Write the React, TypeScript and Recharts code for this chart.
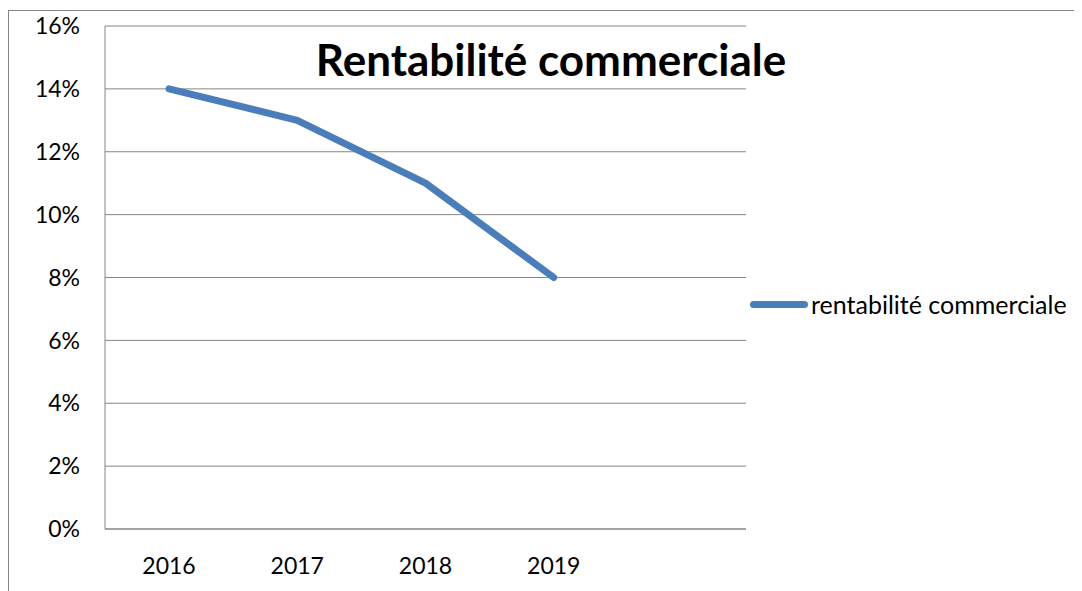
import { LineChart, Line, XAxis, YAxis, CartesianGrid } from "recharts";

const years = ["2016", "2017", "2018", "2019", ""];
const rentabilite = [14, 13, 11, 8, null];
const yTicks = [0, 2, 4, 6, 8, 10, 12, 14, 16];

const data = years.map((year, i) => ({ year, value: rentabilite[i] }));

const FONT = "Lato, 'Open Sans', sans-serif";
const GRID = "#868686";
const BLUE = "#4a7ebb";

export default function App() {
    return (
        <div
            style={{
                position: "relative",
                marginTop: 2,
                width: 1074,
                height: 581,
                borderLeft: `1px solid ${GRID}`,
                borderTop: `1px solid ${GRID}`,
                fontFamily: FONT,
                background: "#fff",
            }}
        >
            <LineChart
                width={1073}
                height={580}
                data={data}
                margin={{ top: 15, right: 336, left: 36, bottom: 32 }}
            >
                <CartesianGrid vertical={false} stroke={GRID} strokeWidth={1} />
                <XAxis
                    dataKey="year"
                    scale="point"
                    padding={{ left: 64, right: 64 }}
                    height={30}
                    axisLine={{ stroke: GRID }}
                    tickLine={false}
                    tickMargin={23}
                    tick={{ fill: "#000", fontSize: 23, fontFamily: FONT }}
                    interval={0}
                />
                <YAxis
                    width={60}
                    domain={[0, 16]}
                    ticks={yTicks}
                    tickFormatter={(v) => `${v}%`}
                    axisLine={{ stroke: GRID }}
                    tickLine={false}
                    tickMargin={19}
                    tick={{ fill: "#000", fontSize: 23, fontFamily: FONT }}
                    interval={0}
                />
                <Line
                    type="linear"
                    dataKey="value"
                    stroke={BLUE}
                    strokeWidth={7}
                    strokeLinecap="round"
                    strokeLinejoin="round"
                    dot={false}
                    activeDot={false}
                    isAnimationActive={false}
                />
            </LineChart>
            <div
                style={{
                    position: "absolute",
                    left: 551 - 9 - 300,
                    width: 600,
                    top: 22,
                    textAlign: "center",
                    fontSize: 44,
                    fontWeight: 700,
                    color: "#000",
                }}
            >
                Rentabilité commerciale
            </div>
            <div
                style={{
                    position: "absolute",
                    left: 741,
                    top: 278,
                    display: "flex",
                    alignItems: "center",
                    fontSize: 25,
                    color: "#000",
                }}
            >
                <span
                    style={{
                        display: "inline-block",
                        width: 58,
                        height: 7,
                        borderRadius: 4,
                        background: BLUE,
                        marginRight: 3,
                    }}
                />
                rentabilité commerciale
            </div>
        </div>
    );
}
